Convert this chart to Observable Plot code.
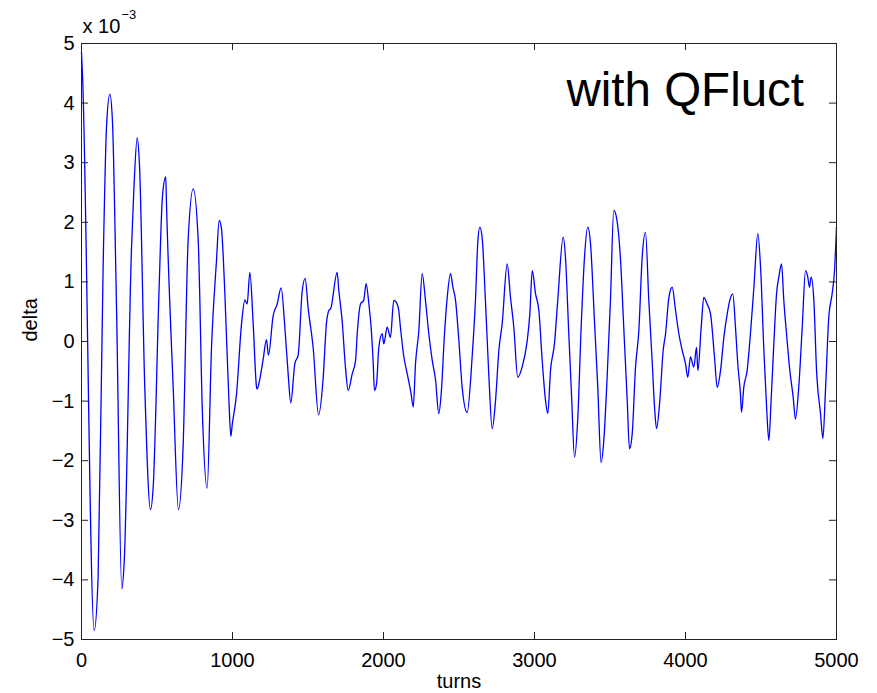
<!DOCTYPE html>
<html>
<head>
<meta charset="utf-8">
<script src="https://cdn.jsdelivr.net/npm/d3@7"></script>
<script src="https://cdn.jsdelivr.net/npm/@observablehq/plot@0.6"></script>
<style>
  html, body { margin: 0; padding: 0; background: #fff; }
</style>
</head>
<body>
<div id="chart"></div>
<script>
// Values (delta in units of 1e-3)
const turns = [0,7,84,110,143,166,188,205,232,267,283,331,347,369,384,419,457,475,514,536,558,563,607,642,673,706,740,773,801,832,861,894,912,927,949,978,989,998,1026,1060,1082,1097,1115,1137,1159,1163,1181,1203,1225,1238,1269,1296,1322,1347,1369,1386,1413,1435,1461,1481,1501,1534,1570,1600,1622,1640,1650,1693,1704,1726,1748,1766,1793,1815,1826,1848,1869,1885,1903,1918,1932,1940,1954,1969,1991,2002,2024,2046,2068,2084,2101,2112,2135,2157,2183,2197,2212,2234,2256,2278,2300,2323,2345,2366,2382,2404,2422,2444,2459,2477,2499,2521,2554,2587,2609,2625,2638,2653,2675,2697,2720,2742,2764,2786,2819,2841,2863,2889,2918,2952,2969,2985,3007,3029,3051,3073,3088,3106,3132,3154,3190,3205,3227,3245,3265,3287,3309,3331,3353,3371,3397,3419,3441,3459,3481,3503,3525,3543,3570,3591,3614,3629,3647,3669,3691,3713,3735,3757,3779,3795,3808,3830,3852,3868,3890,3912,3934,3956,3978,4000,4015,4033,4055,4073,4082,4104,4121,4143,4166,4192,4210,4232,4254,4276,4293,4313,4331,4346,4364,4371,4386,4408,4430,4453,4479,4497,4519,4537,4552,4567,4585,4603,4618,4636,4651,4669,4691,4713,4728,4750,4773,4795,4810,4821,4832,4850,4868,4894,4910,4927,4949,4971,4987,5000];
const delta = [4.85,4.45,-4.85,-3.95,1.23,3.62,4.15,3.69,0.56,-4.15,-3.69,1.56,2.56,3.42,2.96,-0.76,-2.82,-2.43,0.90,2.43,2.76,2.29,-0.76,-2.82,-1.76,1.69,2.56,1.69,-1.23,-2.46,-0.10,1.36,2.03,1.89,0.83,-1.10,-1.59,-1.40,-0.90,0.30,0.70,0.63,1.16,0.30,-0.76,-0.80,-0.63,-0.30,0.03,-0.23,0.43,0.63,0.90,0.23,-0.56,-1.03,-0.37,-0.23,0.83,1.06,0.56,-0.10,-1.23,-0.63,0.30,0.53,0.55,1.16,0.86,0.35,-0.43,-0.82,-0.54,-0.32,0.13,0.63,0.69,0.97,0.63,0.24,-0.37,-0.82,-0.71,-0.10,0.13,-0.04,0.24,0.07,0.69,0.66,0.52,0.24,-0.26,-0.54,-0.88,-1.10,-0.37,0.18,1.14,0.69,0.13,-0.32,-0.65,-1.21,-0.88,0.13,0.74,1.14,0.92,0.69,0.02,-0.77,-1.19,-0.26,0.69,1.69,1.92,1.75,0.69,-0.54,-1.46,-0.99,-0.15,0.30,1.30,0.74,0.24,-0.60,-0.43,0.02,0.46,1.19,0.80,0.52,-0.32,-0.99,-1.21,-0.49,-0.04,0.69,1.75,1.41,0.13,-0.88,-1.94,-1.27,0.24,1.41,1.92,1.64,0.35,-0.77,-2.03,-1.66,-0.60,0.69,2.20,2.08,1.36,0.24,-0.99,-1.80,-1.55,-0.43,0.18,1.41,1.83,0.69,-0.32,-1.10,-1.46,-0.99,-0.15,0.13,0.74,0.91,0.52,0.13,-0.15,-0.37,-0.60,-0.26,-0.43,-0.10,-0.49,0.24,0.74,0.63,0.46,-0.26,-0.77,-0.49,0.07,0.46,0.69,0.80,0.24,-0.37,-0.88,-1.19,-0.77,-0.49,0.13,0.91,1.81,1.25,-0.15,-1.10,-1.66,-0.99,-0.04,0.80,1.08,1.30,0.69,0.13,-0.49,-0.93,-1.30,-0.77,0.24,1.19,1.08,0.91,1.08,0.69,-0.49,-1.21,-1.63,-0.82,0.41,0.80,1.19,1.92];
const xTicks = [0, 1000, 2000, 3000, 4000, 5000];
const yTicks = [-5, -4, -3, -2, -1, 0, 1, 2, 3, 4, 5];
const xLabel = "turns";
const yLabel = "delta";
const exponentBase = "x 10";
const exponentPower = "\u22123";
const annotation = "with QFluct";

const data = turns.map((t, i) => ({turn: t, delta: delta[i]}));

const W = 877, H = 693;
const mL = 81, mR = 41, mT = 43, mB = 54;
const frameW = W - mL - mR, frameH = H - mT - mB;
const tickLen = 7;
const ink = "#222";
const fmt = d3.format("d");

const chart = Plot.plot({
  width: W,
  height: H,
  marginLeft: mL,
  marginRight: mR,
  marginTop: mT,
  marginBottom: mB,
  style: {fontFamily: "'Liberation Sans', Arial, Helvetica, sans-serif", fontSize: "20px", color: "#000", background: "#fff"},
  x: {domain: [0, 5000]},
  y: {domain: [-5, 5]},
  marks: [
    Plot.line(data, {x: "turn", y: "delta", stroke: "#0000ff", strokeWidth: 1.3, curve: "monotone-x"}),
    Plot.frame({stroke: ink, strokeWidth: 1}),
    Plot.gridX(xTicks, {stroke: ink, strokeOpacity: 1, insetTop: frameH - tickLen}),
    Plot.gridX(xTicks, {stroke: ink, strokeOpacity: 1, insetBottom: frameH - tickLen}),
    Plot.gridY(yTicks, {stroke: ink, strokeOpacity: 1, insetRight: frameW - tickLen}),
    Plot.gridY(yTicks, {stroke: ink, strokeOpacity: 1, insetLeft: frameW - tickLen}),
    Plot.axisX(xTicks, {anchor: "bottom", tickSize: 0, tickPadding: 13, tickFormat: fmt, label: null, fill: "#000"}),
    Plot.axisY(yTicks, {anchor: "left", tickSize: 0, tickPadding: 7, tickFormat: fmt, label: null, fill: "#000"}),
    Plot.text([xLabel], {frameAnchor: "bottom", dy: 42, text: d => d, fontSize: 20, lineAnchor: "middle", fill: "#000"}),
    Plot.text([yLabel], {frameAnchor: "left", dx: -51, rotate: -90, text: d => d, fontSize: 20, lineAnchor: "middle", fill: "#000"}),
    Plot.text([exponentBase], {frameAnchor: "top-left", dx: 1, dy: -17, text: d => d, fontSize: 20, textAnchor: "start", lineAnchor: "middle", fill: "#000"}),
    Plot.text([exponentPower], {frameAnchor: "top-left", dx: 40, dy: -29, text: d => d, fontSize: 13, textAnchor: "start", lineAnchor: "middle", fill: "#000"}),
    Plot.text([annotation], {frameAnchor: "top-left", dx: 485, dy: 47, text: d => d, fontSize: 47.5, textAnchor: "start", lineAnchor: "middle", fill: "#000"})
  ]
});
document.getElementById("chart").appendChild(chart);
</script>
</body>
</html>
